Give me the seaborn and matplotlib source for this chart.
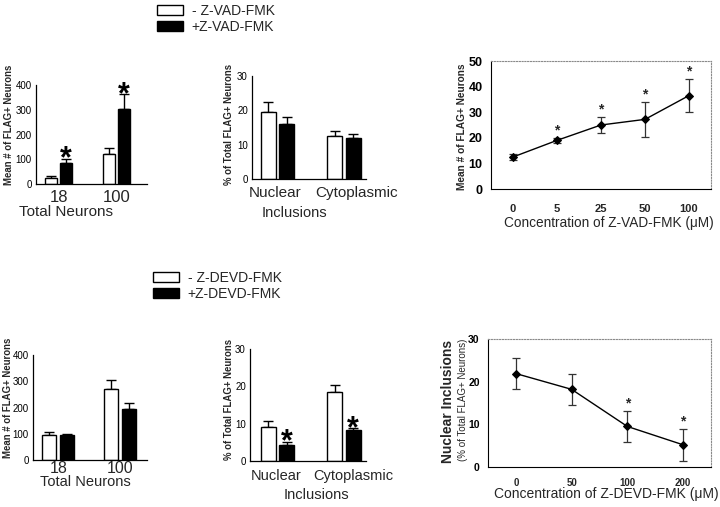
import numpy as np
import pandas as pd
import matplotlib
matplotlib.use("Agg")
import matplotlib.pyplot as plt
import matplotlib.transforms as mtransforms
import seaborn as sns

# ---------------- data ----------------
total_cats = ["18", "100"]
incl_cats = ["Nuclear", "Cytoplasmic"]
vad_groups = ["- Z-VAD-FMK", "+Z-VAD-FMK"]
devd_groups = ["- Z-DEVD-FMK", "+Z-DEVD-FMK"]

vad_minus_total = [25, 122]
vad_minus_total_err = [8, 22]
vad_plus_total = [84, 302]
vad_plus_total_err = [19, 61]
vad_total_star = [True, True]

vad_minus_incl = [19.5, 12.5]
vad_minus_incl_err = [2.9, 1.5]
vad_plus_incl = [16.1, 11.9]
vad_plus_incl_err = [2.1, 1.2]
vad_incl_star = [False, False]

vad_conc = ["0", "5", "25", "50", "100"]
vad_mean = [12.5, 19.0, 25.0, 27.2, 36.5]
vad_err = [1.0, 1.0, 3.2, 6.7, 6.6]
vad_sig = [False, True, True, True, True]

devd_minus_total = [97, 272]
devd_minus_total_err = [10, 33]
devd_plus_total = [94, 193]
devd_plus_total_err = [5, 24]
devd_total_star = [False, False]

devd_minus_incl = [9.1, 18.5]
devd_minus_incl_err = [1.5, 1.8]
devd_plus_incl = [4.3, 8.2]
devd_plus_incl_err = [0.9, 0.7]
devd_incl_star = [True, True]

devd_conc = ["0", "50", "100", "200"]
devd_mean = [21.9, 18.2, 9.5, 5.2]
devd_err = [3.7, 3.7, 3.7, 3.7]
devd_sig = [False, False, True, True]

# ---------------- style ----------------
sns.set_style("white")
plt.rcParams["font.family"] = ["Liberation Sans", "DejaVu Sans"]

W, H = 720, 507
fig = plt.figure(figsize=(W / 100, H / 100), dpi=100)
fig.patch.set_facecolor("white")


def pbox(x0, y0, x1, y1):
    return [x0 / W, 1 - y1 / H, (x1 - x0) / W, (y1 - y0) / H]


def bar_panel(box, cats, groups, minus, minus_err, plus, plus_err, stars,
              ylim, yticks, ylabel, ylab_pos, xlabel, xlab_pos, width, gap,
              xlim, xt_size, xt_pad, xl_size, legend_anchor=None,
              label_shift=None):
    x0, y0, x1, y1 = box
    ax = fig.add_axes(pbox(*box))
    n = len(cats)
    df = pd.DataFrame({"cat": cats * 2, "val": minus + plus,
                       "grp": [groups[0]] * n + [groups[1]] * n})
    sns.barplot(data=df, x="cat", y="val", hue="grp", order=cats,
                hue_order=groups,
                palette={groups[0]: "white", groups[1]: "black"},
                saturation=1, edgecolor="black", linewidth=1.0,
                width=width, gap=gap, errorbar=None,
                legend=legend_anchor is not None, ax=ax)
    for cont, err in zip(ax.containers, [minus_err, plus_err]):
        xs = [r.get_x() + r.get_width() / 2 for r in cont]
        ys = [r.get_height() for r in cont]
        ax.errorbar(xs, ys, yerr=[np.zeros(n), err], fmt="none",
                    ecolor="black", elinewidth=1.0, capsize=3.5,
                    capthick=1.0, zorder=0.5)
    plus_cont = ax.containers[1]
    for r, e, s in zip(plus_cont, plus_err, stars):
        if s:
            ax.annotate("*", xy=(r.get_x() + r.get_width() / 2,
                                 r.get_height() + e),
                        xytext=(0, -6.5), textcoords="offset points",
                        ha="center", va="baseline", fontsize=22,
                        fontweight="bold", color="black")
    ax.set_ylim(*ylim)
    ax.set_xlim(*xlim)
    ax.set_yticks(yticks)
    ax.set_yticklabels([str(t) for t in yticks], fontsize=7)
    ax.tick_params(axis="y", direction="out", length=2, width=0.8,
                   pad=1, colors="black")
    ax.tick_params(axis="x", length=0, pad=xt_pad, labelsize=xt_size)
    for s in ["top", "right"]:
        ax.spines[s].set_visible(False)
    for s in ["left", "bottom"]:
        ax.spines[s].set_color("black")
        ax.spines[s].set_linewidth(0.9)
    ax.set_ylabel(ylabel, fontweight="bold", fontsize=6.9)
    ax.yaxis.set_label_coords((ylab_pos[0] - x0) / (x1 - x0),
                              1 - (ylab_pos[1] - y0) / (y1 - y0))
    ax.yaxis.label.set_verticalalignment("center")
    ax.set_xlabel(xlabel, fontsize=xl_size)
    ax.xaxis.set_label_coords((xlab_pos[0] - x0) / (x1 - x0),
                              (y1 - xlab_pos[1]) / (y1 - y0))
    ax.xaxis.label.set_verticalalignment("center")
    if label_shift is not None:
        for lab, dx in zip(ax.get_xticklabels(), label_shift):
            lab.set_transform(lab.get_transform() +
                              mtransforms.ScaledTranslation(
                                  dx / 100, 0, fig.dpi_scale_trans))
    if legend_anchor is not None:
        sns.move_legend(ax, "upper left",
                        bbox_to_anchor=(legend_anchor[0] / W,
                                        1 - legend_anchor[1] / H),
                        bbox_transform=fig.transFigure, frameon=False,
                        title=None, fontsize=10, handlelength=1.9,
                        handleheight=0.78, handletextpad=0.6,
                        labelspacing=0.15, borderpad=0, borderaxespad=0)
    return ax


def line_panel(box, cats, mean, err, sig, ylim, yticks, xt_size, yt_size,
               xt_pad, xlabel, xlab_pos, xl_size):
    x0, y0, x1, y1 = box
    ax = fig.add_axes(pbox(*box))
    n = len(cats)
    df = pd.DataFrame({"conc": cats, "val": mean})
    sns.pointplot(data=df, x="conc", y="val", order=cats, color="black",
                  markers="D", markersize=4, linewidth=1.0, errorbar=None,
                  ax=ax)
    line = ax.lines[0]
    xs = line.get_xdata()
    ax.errorbar(xs, mean, yerr=err, fmt="none", ecolor="#333333",
                elinewidth=0.9, capsize=3, capthick=0.9, zorder=1)
    for x, m, e, s in zip(xs, mean, err, sig):
        if s:
            ax.annotate("*", xy=(x, m + e), xytext=(0, 2.5),
                        textcoords="offset points", ha="center",
                        va="baseline", fontsize=10, fontweight="bold")
    ax.set_xlim(-0.5, n - 0.5)
    ax.set_ylim(*ylim)
    ax.set_yticks(yticks)
    ax.set_yticklabels([str(t) for t in yticks], fontweight="bold",
                       fontsize=yt_size)
    ax.set_xticks(range(n))
    ax.set_xticklabels(cats, fontweight="bold", fontsize=xt_size)
    ax.set_xticks(np.arange(0.5, n, 1.0), minor=True)
    ax.tick_params(axis="x", which="major", length=0, pad=xt_pad)
    ax.tick_params(axis="x", which="minor", length=4, width=0.8,
                   direction="out", colors="black")
    ax.tick_params(axis="y", length=4, width=0.8, direction="out", pad=2,
                   colors="black")
    for s in ["top", "right"]:
        ax.spines[s].set_linestyle((0, (1, 1.5)))
        ax.spines[s].set_color("#8a8a8a")
        ax.spines[s].set_linewidth(0.8)
    for s in ["left", "bottom"]:
        ax.spines[s].set_color("black")
        ax.spines[s].set_linewidth(0.8)
    ax.set_ylabel("")
    ax.set_xlabel(xlabel, fontsize=xl_size)
    ax.xaxis.set_label_coords((xlab_pos[0] - x0) / (x1 - x0),
                              (y1 - xlab_pos[1]) / (y1 - y0))
    ax.xaxis.label.set_verticalalignment("center")
    return ax


def side_label(ax, box, text, pos, **kw):
    x0, y0, x1, y1 = box
    ax.text((pos[0] - x0) / (x1 - x0), 1 - (pos[1] - y0) / (y1 - y0), text,
            transform=ax.transAxes, rotation=90, ha="center", va="center",
            **kw)


# ---------------- top row ----------------
bar_panel((36, 85, 147, 184), total_cats, vad_groups,
          vad_minus_total, vad_minus_total_err,
          vad_plus_total, vad_plus_total_err, vad_total_star,
          (0, 400), [0, 100, 200, 300, 400], "Mean # of FLAG+ Neurons",
          (9, 125), "Total Neurons", (66, 212), width=0.53, gap=0.2,
          xlim=(-0.39, 1.53), xt_size=12, xt_pad=4, xl_size=11,
          legend_anchor=(157, 4))

bar_panel((252, 76, 366, 179), incl_cats, vad_groups,
          vad_minus_incl, vad_minus_incl_err,
          vad_plus_incl, vad_plus_incl_err, vad_incl_star,
          (0, 30), [0, 10, 20, 30], "% of Total FLAG+ Neurons",
          (229, 124), "Inclusions", (294, 213), width=0.556, gap=0.19,
          xlim=(-0.38, 1.33), xt_size=11, xt_pad=5, xl_size=10.5,
          label_shift=[-2, 13])

box_a3 = (491, 61, 711, 189)
ax_a3 = line_panel(box_a3, vad_conc, vad_mean, vad_err, vad_sig, (0, 50),
                   [0, 10, 20, 30, 40, 50], xt_size=8, yt_size=9,
                   xt_pad=11, xlabel="Concentration of Z-VAD-FMK (\u03bcM)",
                   xlab_pos=(609, 223), xl_size=9.8)
side_label(ax_a3, box_a3, "Mean # of FLAG+ Neurons", (462, 127),
           fontsize=7.3, fontweight="bold")

# ---------------- bottom row ----------------
bar_panel((33, 355, 147, 460), total_cats, devd_groups,
          devd_minus_total, devd_minus_total_err,
          devd_plus_total, devd_plus_total_err, devd_total_star,
          (0, 400), [0, 100, 200, 300, 400], "Mean # of FLAG+ Neurons",
          (8, 398), "Total Neurons", (85, 482), width=0.585, gap=0.2,
          xlim=(-0.41, 1.44), xt_size=11.5, xt_pad=1, xl_size=10.5,
          legend_anchor=(153, 271))

bar_panel((250, 349, 366, 461), incl_cats, devd_groups,
          devd_minus_incl, devd_minus_incl_err,
          devd_plus_incl, devd_plus_incl_err, devd_incl_star,
          (0, 30), [0, 10, 20, 30], "% of Total FLAG+ Neurons",
          (229, 399), "Inclusions", (316, 495), width=0.556, gap=0.19,
          xlim=(-0.41, 1.33), xt_size=10.5, xt_pad=6, xl_size=10.5,
          label_shift=[-1, 9])

box_b3 = (488, 339, 711, 467)
ax_b3 = line_panel(box_b3, devd_conc, devd_mean, devd_err, devd_sig, (0, 30),
                   [0, 10, 20, 30], xt_size=7, yt_size=7.5, xt_pad=8,
                   xlabel="Concentration of Z-DEVD-FMK (\u03bcM)",
                   xlab_pos=(606, 494), xl_size=10)
side_label(ax_b3, box_b3, "Nuclear Inclusions", (448, 401), fontsize=10,
           fontweight="bold")
side_label(ax_b3, box_b3, "(% of Total FLAG+ Neurons)", (463, 400),
           fontsize=7)

fig.savefig("out.png", dpi=100, facecolor="white")
